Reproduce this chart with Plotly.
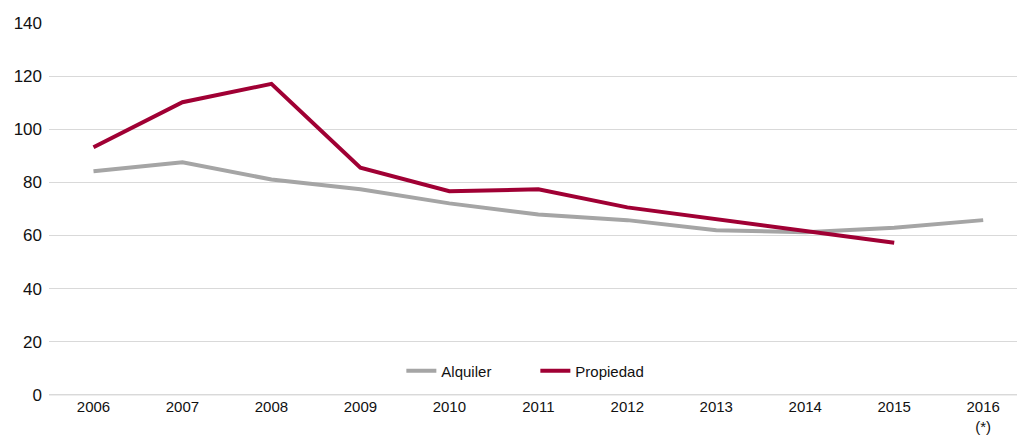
import plotly.graph_objects as go

# Años del eje horizontal (el último es provisional)
years = ["2006", "2007", "2008", "2009", "2010", "2011",
         "2012", "2013", "2014", "2015", "2016"]
year_labels = ["2006", "2007", "2008", "2009", "2010", "2011",
               "2012", "2013", "2014", "2015", "2016<br>(*)"]

# Series
alquiler = [84.2, 87.6, 81.1, 77.4, 72.1, 67.9, 65.8, 62.0, 61.2, 62.9, 65.8]
propiedad = [93.2, 110.2, 117.1, 85.5, 76.7, 77.4, 70.6, 66.2, 61.7, 57.3, None]

y_ticks = [0, 20, 40, 60, 80, 100, 120, 140]

GRAY = "#A5A5A5"
RED = "#A00034"
GRID = "#D9D9D9"
FONT = "Liberation Sans, Arial, sans-serif"
TEXT = "#111111"

fig = go.Figure()
fig.add_trace(go.Scatter(
    x=years, y=alquiler, name="Alquiler", mode="lines",
    line=dict(color=GRAY, width=4), cliponaxis=False,
))
fig.add_trace(go.Scatter(
    x=years, y=propiedad, name="Propiedad", mode="lines",
    line=dict(color=RED, width=4), cliponaxis=False,
))

# Línea base en y = 0
fig.add_shape(type="line", xref="paper", yref="y", x0=0, x1=1, y0=0, y1=0,
              line=dict(color=GRID, width=1), layer="below")

fig.update_layout(
    width=1017, height=441,
    margin=dict(l=49, r=0, t=23, b=45),
    paper_bgcolor="white", plot_bgcolor="white",
    font=dict(family=FONT, color=TEXT),
    showlegend=True,
    legend=dict(
        orientation="h", x=0.364, y=0.067, xanchor="left", yanchor="middle",
        font=dict(size=15, family=FONT, color=TEXT),
        itemwidth=30, entrywidth=89, bgcolor="rgba(0,0,0,0)",
    ),
    xaxis=dict(
        type="category", range=[-0.5, 10.38],
        tickvals=years, ticktext=year_labels,
        showgrid=False, showline=False, zeroline=False, ticks="",
        tickfont=dict(size=15, family=FONT, color=TEXT),
    ),
    yaxis=dict(
        range=[-0.4, 140], tickvals=y_ticks,
        showgrid=True, gridcolor=GRID, gridwidth=1,
        zeroline=False, showline=False, ticks="",
        tickfont=dict(size=17, family=FONT, color=TEXT),
        ticklabelstandoff=6,
    ),
)

fig.write_html("out.html")
